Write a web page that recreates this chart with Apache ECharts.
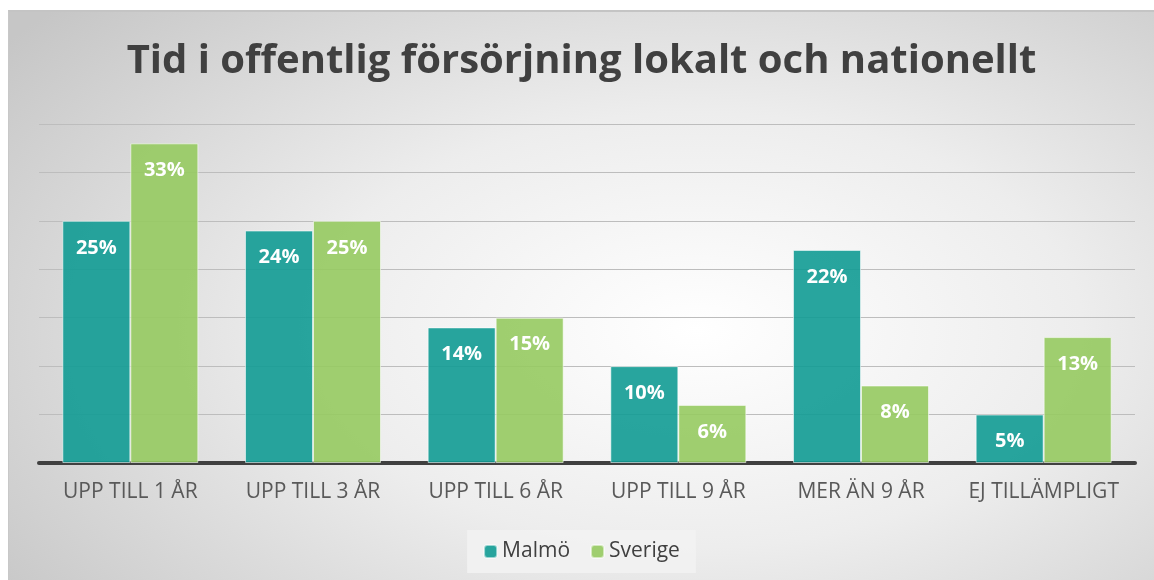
<!DOCTYPE html>
<html>
<head>
<meta charset="utf-8">
<script src="https://cdn.jsdelivr.net/npm/echarts@6/dist/echarts.min.js"></script>
<style>
  html, body { margin: 0; padding: 0; background: #fff; }
  #chart {
    position: absolute;
    left: 8px;
    top: 10px;
    width: 1146px;
    height: 570px;
    border-top: 2px solid #c4c4c4;
    border-left: 1px solid #c8c8c8;
    box-sizing: border-box;
    background: radial-gradient(ellipse 75% 85% at 60% 56%, #ffffff 0%, #ededed 45%, #c6c6c6 100%);
  }
</style>
</head>
<body>
<div id="chart"></div>
<script>
// kategorier och värden (procent)
const categories = ['UPP TILL 1 ÅR', 'UPP TILL 3 ÅR', 'UPP TILL 6 ÅR', 'UPP TILL 9 ÅR', 'MER ÄN 9 ÅR', 'EJ TILLÄMPLIGT']
const malmo = [25, 24, 14, 10, 22, 5]
const sverige = [33, 25, 15, 6, 8, 13]

const chart = echarts.init(document.getElementById('chart'))

const labelStyle = {
  show: true,
  position: 'insideTop',
  distance: 17,
  color: '#fff',
  fontWeight: 'bold',
  fontSize: 20,
  fontFamily: 'Open Sans',
  formatter: '{c}%'
}

const option = {
  backgroundColor: 'transparent',
  title: {
    text: 'Tid i offentlig försörjning lokalt och nationellt',
    left: 'center',
    top: 25,
    textStyle: {
      color: '#404040',
      fontSize: 40,
      fontWeight: 'bold',
      fontFamily: 'Open Sans'
    }
  },
  legend: {
    data: ['Malmö', 'Sverige'],
    bottom: 7,
    left: 'center',
    itemWidth: 13,
    itemHeight: 13,
    itemGap: 20,
    padding: [11, 16],
    backgroundColor: 'rgba(242,242,242,0.9)',
    textStyle: { color: '#404040', fontSize: 21, fontFamily: 'Open Sans' }
  },
  grid: {
    left: 30,
    right: 19,
    top: 112,
    bottom: 117
  },
  xAxis: {
    type: 'category',
    data: categories,
    axisTick: { show: false },
    axisLine: { lineStyle: { color: '#404040', width: 4 } },
    axisLabel: {
      color: '#595959',
      fontSize: 21,
      fontFamily: 'Open Sans',
      margin: 19,
      interval: 0
    }
  },
  yAxis: {
    type: 'value',
    min: 0,
    max: 35,
    interval: 5,
    axisLabel: { show: false },
    axisLine: { show: false },
    axisTick: { show: false },
    splitLine: { lineStyle: { color: '#bdbdbd', width: 1 } }
  },
  series: [
    {
      name: 'Malmö',
      type: 'bar',
      data: malmo,
      barWidth: 68,
      barGap: '0%',
      itemStyle: { color: 'rgba(17,155,148,0.9)', borderColor: 'rgba(255,255,255,0.55)', borderWidth: 1 },
      label: labelStyle
    },
    {
      name: 'Sverige',
      type: 'bar',
      data: sverige,
      barWidth: 68,
      barGap: '0%',
      itemStyle: { color: 'rgba(150,202,96,0.9)', borderColor: 'rgba(255,255,255,0.55)', borderWidth: 1 },
      label: labelStyle
    }
  ]
}

chart.setOption(option)
</script>
</body>
</html>
